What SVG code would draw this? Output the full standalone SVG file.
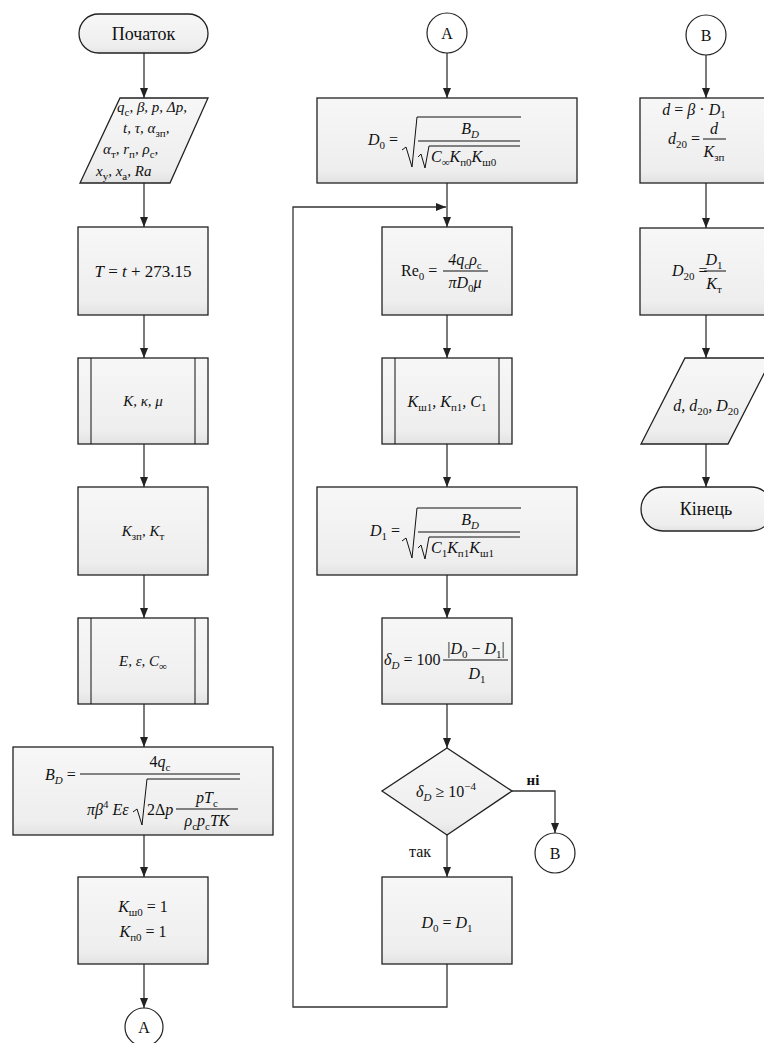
<svg xmlns="http://www.w3.org/2000/svg" width="764" height="1043" viewBox="0 0 764 1043">
<defs>
<linearGradient id="g" x1="0" y1="0" x2="0" y2="1">
<stop offset="0" stop-color="#f7f7f7"/>
<stop offset="0.85" stop-color="#eeeeee"/>
<stop offset="1" stop-color="#e2e2e2"/>
</linearGradient>
<marker id="ar" markerUnits="userSpaceOnUse" markerWidth="10" markerHeight="10" refX="10" refY="4" orient="auto">
<path d="M0,0 L10,4 L0,8 z" fill="#222"/>
</marker>
<style>
.bx{fill:url(#g);stroke:#222;stroke-width:1.3}
.ci{fill:#fff;stroke:#222;stroke-width:1.2}
.ca{fill:none;stroke:#333;stroke-width:1.3;marker-end:url(#ar)}
.rd{fill:none;stroke:#111;stroke-width:1}
text,tspan{font-family:"Liberation Serif","DejaVu Serif",serif}
.t{font-size:16px;fill:#111}
.m{text-anchor:middle}
.i{font-style:italic}
.s{font-size:11px;font-style:normal}
.si{font-size:11px;font-style:italic}
.n{font-style:normal}
.b{font-weight:bold}
</style>
</defs>
<rect width="764" height="1043" fill="#fff"/>

<g id="connectors">
<line class="ca" x1="144" y1="53" x2="144" y2="98"/>
<line class="ca" x1="144" y1="183" x2="144" y2="227"/>
<line class="ca" x1="144" y1="315" x2="144" y2="358"/>
<line class="ca" x1="144" y1="444" x2="144" y2="487"/>
<line class="ca" x1="144" y1="575" x2="144" y2="618"/>
<line class="ca" x1="144" y1="704" x2="144" y2="747"/>
<line class="ca" x1="144" y1="835" x2="144" y2="877"/>
<line class="ca" x1="144" y1="964" x2="144" y2="1008"/>
<line class="ca" x1="447" y1="53" x2="447" y2="98"/>
<line class="ca" x1="447" y1="183" x2="447" y2="227"/>
<polyline class="ca" points="447,964 447,1007 293,1007 293,207 446,207"/>
<line class="ca" x1="447" y1="315" x2="447" y2="358"/>
<line class="ca" x1="447" y1="444" x2="447" y2="487"/>
<line class="ca" x1="447" y1="575" x2="447" y2="618"/>
<line class="ca" x1="447" y1="704" x2="447" y2="748"/>
<polyline class="ca" points="512,791 555,791 555,833"/>
<line class="ca" x1="447" y1="835" x2="447" y2="877"/>
<text class="t b m" x="533" y="785" style="font-size:15px">ні</text>
<text class="t m" x="420" y="857">так</text>
<line class="ca" x1="706" y1="55" x2="706" y2="98"/>
<line class="ca" x1="706" y1="183" x2="706" y2="228"/>
<line class="ca" x1="706" y1="315" x2="706" y2="358"/>
<line class="ca" x1="706" y1="444" x2="706" y2="487"/>
</g>

<g id="start">
<rect x="79" y="14" width="129" height="39" rx="19.5" class="bx"/>
<text class="t m" x="143.5" y="40" style="font-size:18px">Початок</text>
</g>

<g id="input">
<polygon class="bx" points="120,98 208,98 170,183 80,183"/>
<text class="t i" x="117" y="112" style="font-size:15px">q<tspan class="s" dy="4">с</tspan><tspan dy="-4">, β, p, Δp,</tspan></text>
<text class="t i" x="123" y="133" style="font-size:15px">t, τ, α<tspan class="s" dy="4">зп</tspan><tspan dy="-4">,</tspan></text>
<text class="t i" x="103" y="154" style="font-size:15px">α<tspan class="s" dy="4">т</tspan><tspan dy="-4">, r</tspan><tspan class="s" dy="4">п</tspan><tspan dy="-4">, ρ</tspan><tspan class="s" dy="4">с</tspan><tspan dy="-4">,</tspan></text>
<text class="t i" x="96" y="176" style="font-size:15px">x<tspan class="s" dy="4">у</tspan><tspan dy="-4">, x</tspan><tspan class="s" dy="4">а</tspan><tspan dy="-4">, Ra</tspan></text>
</g>

<g id="temp">
<rect class="bx" x="78" y="227" width="130" height="88"/>
<text class="t m" x="143" y="277" style="font-size:17px"><tspan class="i">T</tspan> = <tspan class="i">t</tspan> + 273.15</text>
</g>

<g id="sub1">
<rect class="bx" x="78" y="358" width="130" height="86"/>
<line class="rd" x1="91" y1="358" x2="91" y2="444"/>
<line class="rd" x1="195" y1="358" x2="195" y2="444"/>
<text class="t m i" x="143" y="406" style="font-size:15px">K, κ, μ</text>
</g>

<g id="corr">
<rect class="bx" x="78" y="487" width="130" height="88"/>
<text class="t m i" x="143" y="536" style="font-size:15px">K<tspan class="s" dy="4">зп</tspan><tspan dy="-4">, K</tspan><tspan class="s" dy="4">т</tspan></text>
</g>

<g id="sub2">
<rect class="bx" x="78" y="618" width="130" height="86"/>
<line class="rd" x1="91" y1="618" x2="91" y2="704"/>
<line class="rd" x1="195" y1="618" x2="195" y2="704"/>
<text class="t m i" x="143" y="666" style="font-size:15px">E, ε, C<tspan class="s" dy="4">∞</tspan></text>
</g>

<g id="bd">
<rect class="bx" x="13" y="747" width="260" height="88"/>
<text class="t i" x="45" y="780">B<tspan class="si" dy="4">D</tspan><tspan class="n" dy="-4"> =</tspan></text>
<line class="rd" x1="80" y1="774" x2="240" y2="774"/>
<text class="t m" x="160" y="767">4<tspan class="i">q</tspan><tspan class="s" dy="4">с</tspan></text>
<text class="t i" x="87" y="815">πβ<tspan class="s" dy="-7">4</tspan><tspan dy="7"> Eε</tspan></text>
<path class="rd" d="M133,812 L137,809 L142,825 L147,779 L240,779"/>
<text class="t" x="147" y="815">2Δ<tspan class="i">p</tspan></text>
<line class="rd" x1="176" y1="809" x2="238" y2="809"/>
<text class="t m i" x="207" y="803">pT<tspan class="s" dy="4">с</tspan></text>
<text class="t m i" x="207" y="826">ρ<tspan class="s" dy="4">с</tspan><tspan dy="-4">p</tspan><tspan class="s" dy="4">с</tspan><tspan dy="-4">TK</tspan></text>
</g>

<g id="init">
<rect class="bx" x="78" y="877" width="130" height="87"/>
<text class="t m" x="143" y="912"><tspan class="i">K</tspan><tspan class="s" dy="4">ш0</tspan><tspan dy="-4"> = 1</tspan></text>
<text class="t m" x="143" y="937"><tspan class="i">K</tspan><tspan class="s" dy="4">п0</tspan><tspan dy="-4"> = 1</tspan></text>
</g>

<g id="connA1">
<circle class="ci" cx="144" cy="1027" r="19"/>
<text class="t m" x="144" y="1033">A</text>
</g>

<g id="connA2">
<circle class="ci" cx="447" cy="33" r="20"/>
<text class="t m" x="447" y="39">A</text>
</g>

<g id="d0">
<rect class="bx" x="317" y="98" width="260" height="85"/>
<text class="t i" x="368" y="145">D<tspan class="s" dy="4">0</tspan><tspan class="n" dy="-4"> =</tspan></text>
<path class="rd" d="M402,150 L406,147 L412,167 L417,117 L521,117"/>
<text class="t m i" x="470" y="134">B<tspan class="si" dy="4">D</tspan></text>
<line class="rd" x1="418" y1="141" x2="520" y2="141"/>
<path class="rd" d="M418,157 L421,154 L425,168 L429,146 L520,146"/>
<text class="t i" x="431" y="162">C<tspan class="s" dy="4">∞</tspan><tspan dy="-4">K</tspan><tspan class="s" dy="4">п0</tspan><tspan dy="-4">K</tspan><tspan class="s" dy="4">ш0</tspan></text>
</g>

<g id="re0">
<rect class="bx" x="382" y="227" width="130" height="88"/>
<text class="t" x="401" y="276">Re<tspan class="s" dy="4">0</tspan><tspan dy="-4"> =</tspan></text>
<line class="rd" x1="443" y1="271" x2="488" y2="271"/>
<text class="t m i" x="465" y="265">4q<tspan class="s" dy="4">с</tspan><tspan dy="-4">ρ</tspan><tspan class="s" dy="4">с</tspan></text>
<text class="t m i" x="465" y="288">πD<tspan class="s" dy="4">0</tspan><tspan dy="-4">μ</tspan></text>
</g>

<g id="sub3">
<rect class="bx" x="382" y="358" width="130" height="86"/>
<line class="rd" x1="395" y1="358" x2="395" y2="444"/>
<line class="rd" x1="499" y1="358" x2="499" y2="444"/>
<text class="t m i" x="447" y="407">K<tspan class="s" dy="4">ш1</tspan><tspan dy="-4">, K</tspan><tspan class="s" dy="4">п1</tspan><tspan dy="-4">, C</tspan><tspan class="s" dy="4">1</tspan></text>
</g>

<g id="d1">
<rect class="bx" x="317" y="487" width="260" height="88"/>
<text class="t i" x="370" y="536">D<tspan class="s" dy="4">1</tspan><tspan class="n" dy="-4"> =</tspan></text>
<path class="rd" d="M402,541 L406,538 L412,558 L417,508 L521,508"/>
<text class="t m i" x="470" y="525">B<tspan class="si" dy="4">D</tspan></text>
<line class="rd" x1="418" y1="532" x2="520" y2="532"/>
<path class="rd" d="M418,548 L421,545 L425,559 L429,537 L520,537"/>
<text class="t i" x="431" y="553">C<tspan class="s" dy="4">1</tspan><tspan dy="-4">K</tspan><tspan class="s" dy="4">п1</tspan><tspan dy="-4">K</tspan><tspan class="s" dy="4">ш1</tspan></text>
</g>

<g id="delta">
<rect class="bx" x="382" y="618" width="130" height="86"/>
<text class="t i" x="384" y="665">δ<tspan class="si" dy="4">D</tspan><tspan class="n" dy="-4"> = 100</tspan></text>
<line class="rd" x1="443" y1="660" x2="508" y2="660"/>
<text class="t m i" x="476" y="654"><tspan class="n">|</tspan>D<tspan class="s" dy="4">0</tspan><tspan class="n" dy="-4"> − </tspan>D<tspan class="s" dy="4">1</tspan><tspan class="n" dy="-4">|</tspan></text>
<text class="t m i" x="477" y="679">D<tspan class="s" dy="4">1</tspan></text>
</g>

<g id="cond">
<polygon class="bx" points="447,748 512,791 447,835 382,791"/>
<text class="t m i" x="446" y="797">δ<tspan class="si" dy="4">D</tspan><tspan class="n" dy="-4"> ≥ 10</tspan><tspan class="s" dy="-7">−4</tspan></text>
</g>

<g id="connB1">
<circle class="ci" cx="555" cy="853" r="20"/>
<text class="t m" x="555" y="859">B</text>
</g>

<g id="assign">
<rect class="bx" x="382" y="877" width="130" height="87"/>
<text class="t m i" x="447" y="928">D<tspan class="s" dy="4">0</tspan><tspan class="n" dy="-4"> = </tspan>D<tspan class="s" dy="4">1</tspan></text>
</g>

<g id="connB2">
<circle class="ci" cx="706" cy="35" r="20"/>
<text class="t m" x="706" y="41">B</text>
</g>

<g id="dcalc">
<rect class="bx" x="640" y="98" width="132" height="85"/>
<text class="t m i" x="694" y="115">d<tspan class="n"> = </tspan>β<tspan class="n"> · </tspan>D<tspan class="s" dy="3">1</tspan></text>
<text class="t i" x="668" y="144">d<tspan class="s" dy="4">20</tspan><tspan class="n" dy="-4"> =</tspan></text>
<line class="rd" x1="703" y1="139" x2="726" y2="139"/>
<text class="t m i" x="714" y="134">d</text>
<text class="t m i" x="714" y="157">K<tspan class="s" dy="4">зп</tspan></text>
</g>

<g id="d20">
<rect class="bx" x="640" y="228" width="132" height="87"/>
<text class="t i" x="672" y="276">D<tspan class="s" dy="4">20</tspan><tspan class="n" dy="-4"> =</tspan></text>
<line class="rd" x1="704" y1="271" x2="726" y2="271"/>
<text class="t m i" x="714" y="265">D<tspan class="s" dy="4">1</tspan></text>
<text class="t m i" x="714" y="289">K<tspan class="s" dy="4">т</tspan></text>
</g>

<g id="output">
<polygon class="bx" points="685,358 772,358 728,444 641,444"/>
<text class="t m i" x="706" y="411">d, d<tspan class="s" dy="4">20</tspan><tspan dy="-4">, D</tspan><tspan class="s" dy="4">20</tspan></text>
</g>

<g id="end">
<rect x="641" y="487" width="132" height="44" rx="22" class="bx"/>
<text class="t m" x="706" y="515" style="font-size:18px">Кінець</text>
</g>
</svg>
